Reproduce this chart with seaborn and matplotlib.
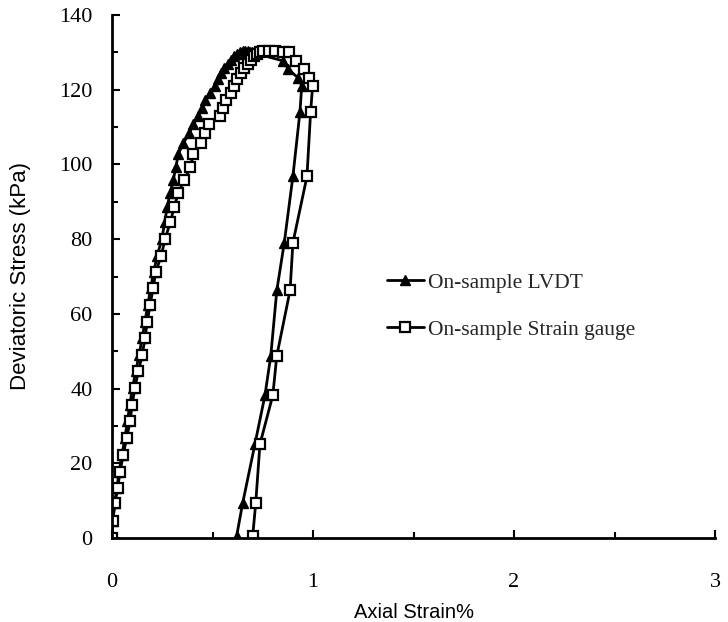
import matplotlib
matplotlib.use("Agg")
import matplotlib.pyplot as plt
import seaborn as sns
import pandas as pd
from matplotlib.ticker import MultipleLocator

# Deviatoric stress (kPa), shared by both strain measurements
stress = [0, 4.6, 9.3, 13.3, 17.7, 22.3, 26.8, 31.2, 35.6, 40.2, 44.6, 49.1,
          53.5, 57.9, 62.4, 66.8, 71.1, 75.6, 80.0, 84.5, 88.7, 92.3, 95.9,
          99.3, 102.8, 105.7, 108.4, 110.8, 113.0, 115.2, 117.2, 119.2, 121.0,
          122.8, 124.4, 125.8, 127.0, 128.0, 128.9, 129.6, 130.1, 130.4, 130.4,
          130.4, 130.2, 130.0,
          127.7, 125.5, 123.1, 121.0, 114.0, 96.8, 79.0, 66.3, 48.8, 38.2,
          25.1, 9.3, 0.5]

# Axial strain (%) from the on-sample LVDT
lvdt_strain = [0, 0.005, 0.013, 0.024, 0.035, 0.050, 0.064, 0.077, 0.088,
               0.102, 0.118, 0.135, 0.150, 0.164, 0.178, 0.192, 0.207, 0.225,
               0.248, 0.262, 0.275, 0.289, 0.305, 0.318, 0.330, 0.355, 0.385,
               0.405, 0.430, 0.450, 0.465, 0.488, 0.512, 0.525, 0.540, 0.555,
               0.575, 0.590, 0.605, 0.620, 0.635, 0.650, 0.660, 0.675, 0.685,
               0.695,
               0.852, 0.877, 0.927, 0.944, 0.935, 0.900, 0.857, 0.820, 0.790,
               0.761, 0.711, 0.650, 0.620]

# Axial strain (%) from the on-sample strain gauge
gauge_strain = [0, 0.003, 0.015, 0.028, 0.040, 0.056, 0.073, 0.090, 0.100,
                0.114, 0.131, 0.151, 0.164, 0.176, 0.189, 0.205, 0.217, 0.245,
                0.264, 0.290, 0.310, 0.330, 0.360, 0.390, 0.405, 0.445, 0.465,
                0.485, 0.535, 0.550, 0.565, 0.590, 0.605, 0.620, 0.640, 0.655,
                0.675, 0.690, 0.705, 0.720, 0.735, 0.753, 0.780, 0.810, 0.852,
                0.882,
                0.915, 0.955, 0.980, 0.998, 0.988, 0.970, 0.900, 0.886, 0.820,
                0.800, 0.736, 0.715, 0.700]

series_labels = ["On-sample LVDT", "On-sample Strain gauge"]
x_ticks = [0, 1, 2, 3]
y_ticks = [0, 20, 40, 60, 80, 100, 120, 140]

sns.set_theme(style="ticks")
plt.rcParams["font.family"] = ["Liberation Serif", "DejaVu Serif"]

fig = plt.figure(figsize=(7.28, 6.22), dpi=100)
ax = fig.add_axes([112 / 728, 1 - 538 / 622, (715 - 112) / 728, (538 - 15) / 622])

sns.lineplot(x=lvdt_strain, y=stress, sort=False, estimator=None, ax=ax,
             color="black", linewidth=2, marker="^", markersize=7.5,
             markerfacecolor="black", markeredgecolor="black",
             markeredgewidth=1, label=series_labels[0])
sns.lineplot(x=gauge_strain, y=stress, sort=False, estimator=None, ax=ax,
             color="black", linewidth=2, marker="s", markersize=6.5,
             markerfacecolor="white", markeredgecolor="black",
             markeredgewidth=1.6, label=series_labels[1])

ax.set_xlim(0, 3)
ax.set_ylim(0, 140)
ax.set_xticks(x_ticks)
ax.set_yticks(y_ticks)
ax.xaxis.set_minor_locator(MultipleLocator(0.5))
ax.yaxis.set_minor_locator(MultipleLocator(10))
ax.tick_params(which="major", direction="in", length=6, width=1.5,
               labelsize=16, color="black", labelcolor="black")
ax.tick_params(which="minor", direction="in", length=4, width=1.5,
               color="black")
ax.tick_params(axis="y", which="major", pad=14)
ax.tick_params(axis="x", which="major", pad=25)

for side in ("top", "right"):
    ax.spines[side].set_visible(False)
for side in ("left", "bottom"):
    ax.spines[side].set_linewidth(2)
    ax.spines[side].set_color("black")

ax.set_xlabel("Axial Strain%", family=["Liberation Sans", "DejaVu Sans"],
              fontsize=14.5, labelpad=8, color="black")
ax.set_ylabel("Deviatoric Stress (kPa)", family=["Liberation Sans", "DejaVu Sans"],
              fontsize=16, labelpad=20, color="black")

ax.legend(loc="upper left", bbox_to_anchor=(0.456, 0.507), frameon=False,
          fontsize=15.5, handlelength=1.7, handletextpad=0.2,
          labelspacing=1.25, borderpad=0, borderaxespad=0)

fig.savefig("out.png", dpi=100, facecolor="white")
